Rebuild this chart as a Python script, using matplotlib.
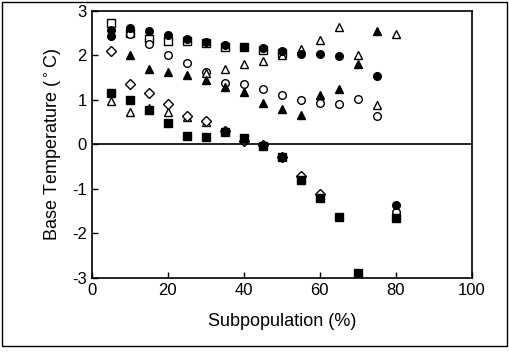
import numpy as np
import matplotlib
matplotlib.use("Agg")
import matplotlib.pyplot as plt
from matplotlib.patches import Rectangle

plt.rcParams['font.family'] = ['Liberation Sans', 'DejaVu Sans']
plt.rcParams['axes.unicode_minus'] = False

# subpopulation (%) and base temperature values, one list pair per symbol set
x_open_sq = [5, 10, 15, 20, 25, 30, 35, 40, 45, 50]
y_open_sq = [2.73, 2.5, 2.38, 2.33, 2.33, 2.28, 2.2, 2.2, 2.12, 2.05]

x_fill_circ = [5, 5, 10, 15, 20, 25, 30, 35, 40, 45, 50, 55, 60, 65, 75, 80]
y_fill_circ = [2.58, 2.43, 2.62, 2.56, 2.45, 2.36, 2.31, 2.24, 2.18, 2.16, 2.1, 2.04, 2.04, 1.98, 1.53, -1.37]

x_open_circ = [10, 15, 20, 25, 30, 35, 40, 45, 50, 55, 60, 65, 70, 75, 80]
y_open_circ = [2.48, 2.25, 2.02, 1.82, 1.62, 1.39, 1.35, 1.24, 1.1, 0.99, 0.94, 0.92, 1.03, 0.63, -1.52]

x_open_tri = [5, 10, 20, 25, 30, 30, 35, 40, 45, 50, 55, 60, 65, 70, 75, 80]
y_open_tri = [0.97, 0.74, 0.72, 0.62, 0.5, 1.6, 1.69, 1.8, 1.88, 2.02, 2.15, 2.34, 2.65, 2.0, 0.88, 2.49]

x_fill_tri = [10, 15, 15, 20, 25, 30, 35, 40, 45, 50, 55, 60, 65, 70, 75]
y_fill_tri = [2.02, 1.7, 0.82, 1.62, 1.55, 1.45, 1.28, 1.17, 0.94, 0.8, 0.67, 1.12, 1.24, 1.8, 2.56]

x_open_dia = [5, 10, 15, 20, 25, 30, 35, 40, 45, 50, 55, 60]
y_open_dia = [2.1, 1.35, 1.15, 0.9, 0.65, 0.52, 0.3, 0.08, -0.02, -0.28, -0.7, -1.12]

x_fill_sq = [5, 10, 15, 20, 25, 30, 35, 40, 45, 50, 55, 60, 65, 70, 80]
y_fill_sq = [1.15, 1.01, 0.77, 0.49, 0.18, 0.16, 0.27, 0.14, -0.04, -0.29, -0.79, -1.21, -1.64, -2.88, -1.66]

xticks = [0, 20, 40, 60, 80, 100]
yticks = [-3, -2, -1, 0, 1, 2, 3]

fig = plt.figure(figsize=(5.1, 3.54), dpi=100)
ax = fig.add_axes([0.180, 0.215, 0.745, 0.754])

ms = 5.2
ax.plot(x_open_sq, y_open_sq, 's', ms=ms, mfc='white', mec='black', mew=1.0)
ax.plot(x_open_circ, y_open_circ, 'o', ms=ms + 0.3, mfc='white', mec='black', mew=1.0)
ax.plot(x_open_tri, y_open_tri, '^', ms=ms + 0.5, mfc='white', mec='black', mew=1.0)
ax.plot(x_open_dia, y_open_dia, 'D', ms=ms - 0.6, mfc='white', mec='black', mew=1.0)
ax.plot(x_fill_tri, y_fill_tri, '^', ms=ms + 0.5, color='black')
ax.plot(x_fill_sq, y_fill_sq, 's', ms=ms, color='black')
ax.plot(x_fill_circ, y_fill_circ, 'o', ms=ms + 0.3, color='black')

ax.axhline(0, color='black', lw=1.2)

ax.set_xlim(0, 100)
ax.set_ylim(-3, 3)
ax.set_xticks(xticks)
ax.set_yticks(yticks)
ax.tick_params(direction='in', length=4, width=1, labelsize=12)
for s in ax.spines.values():
    s.set_linewidth(1.2)

ax.set_xlabel('Subpopulation (%)', fontsize=13, labelpad=11)
ax.set_ylabel('Base Temperature ($^\\circ$C)', fontsize=13, labelpad=6)

fig.patches.append(Rectangle((0.004, 0.022), 0.99, 0.972, transform=fig.transFigure,
                             fill=False, ec='black', lw=1.0))

fig.savefig('out.png', dpi=100)
